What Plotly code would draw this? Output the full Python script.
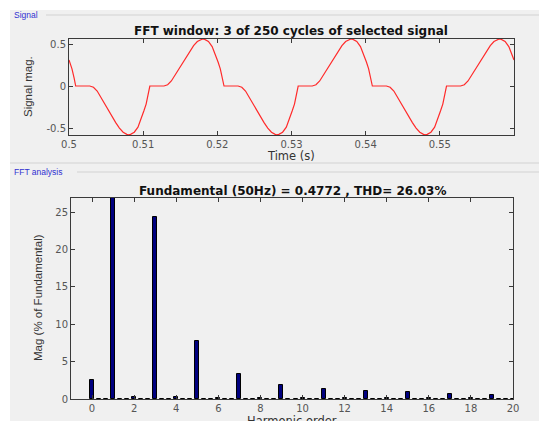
import plotly.graph_objects as go

# ---------------- data ----------------
signal_time = [
    0.5000, 0.5001, 0.5004, 0.5007, 0.5009,
    0.5028, 0.5033, 0.5038, 0.5043, 0.5048, 0.5053, 0.5058, 0.5063, 0.5068, 0.5073,
    0.5078, 0.5080, 0.5083, 0.5088, 0.5093, 0.5098, 0.5101, 0.5104, 0.5107, 0.5109,
    0.5128, 0.5133, 0.5138, 0.5143, 0.5148, 0.5153, 0.5158, 0.5163, 0.5168, 0.5173,
    0.5178, 0.5180, 0.5183, 0.5188, 0.5193, 0.5198, 0.5201, 0.5204, 0.5207, 0.5209,
    0.5228, 0.5233, 0.5238, 0.5243, 0.5248, 0.5253, 0.5258, 0.5263, 0.5268, 0.5273,
    0.5278, 0.5280, 0.5283, 0.5288, 0.5293, 0.5298, 0.5301, 0.5304, 0.5307, 0.5309,
    0.5328, 0.5333, 0.5338, 0.5343, 0.5348, 0.5353, 0.5358, 0.5363, 0.5368, 0.5373,
    0.5378, 0.5380, 0.5383, 0.5388, 0.5393, 0.5398, 0.5401, 0.5404, 0.5407, 0.5409,
    0.5428, 0.5433, 0.5438, 0.5443, 0.5448, 0.5453, 0.5458, 0.5463, 0.5468, 0.5473,
    0.5478, 0.5480, 0.5483, 0.5488, 0.5493, 0.5498, 0.5501, 0.5504, 0.5507, 0.5509,
    0.5528, 0.5533, 0.5538, 0.5543, 0.5548, 0.5553, 0.5558, 0.5563, 0.5568, 0.5573,
    0.5578, 0.5580, 0.5583, 0.5588, 0.5593, 0.5598, 0.5600,
]
signal_mag = [
    0.31, 0.285, 0.205, 0.09, 0.0,
    0.0, -0.015, -0.06, -0.135, -0.215, -0.295, -0.365, -0.435, -0.50, -0.55,
    -0.575, -0.58, -0.575, -0.55, -0.49, -0.38, -0.295, -0.215, -0.09, 0.0,
    0.0, 0.015, 0.06, 0.13, 0.21, 0.285, 0.355, 0.42, 0.48, 0.53,
    0.555, 0.56, 0.555, 0.53, 0.47, 0.365, 0.285, 0.205, 0.09, 0.0,
    0.0, -0.015, -0.06, -0.135, -0.215, -0.295, -0.365, -0.435, -0.50, -0.55,
    -0.575, -0.58, -0.575, -0.55, -0.49, -0.38, -0.295, -0.215, -0.09, 0.0,
    0.0, 0.015, 0.06, 0.13, 0.21, 0.285, 0.355, 0.42, 0.48, 0.53,
    0.555, 0.56, 0.555, 0.53, 0.47, 0.365, 0.285, 0.205, 0.09, 0.0,
    0.0, -0.015, -0.06, -0.135, -0.215, -0.295, -0.365, -0.435, -0.50, -0.55,
    -0.575, -0.58, -0.575, -0.55, -0.49, -0.38, -0.295, -0.215, -0.09, 0.0,
    0.0, 0.015, 0.06, 0.13, 0.21, 0.285, 0.355, 0.42, 0.48, 0.53,
    0.555, 0.56, 0.555, 0.53, 0.47, 0.365, 0.31,
]

harmonic_order = [
    0, 0.333, 0.667, 1, 1.333, 1.667, 2, 2.333, 2.667, 3, 3.333, 3.667,
    4, 4.333, 4.667, 5, 5.333, 5.667, 6, 6.333, 6.667, 7, 7.333, 7.667,
    8, 8.333, 8.667, 9, 9.333, 9.667, 10, 10.333, 10.667, 11, 11.333, 11.667,
    12, 12.333, 12.667, 13, 13.333, 13.667, 14, 14.333, 14.667, 15, 15.333, 15.667,
    16, 16.333, 16.667, 17, 17.333, 17.667, 18, 18.333, 18.667, 19, 19.333, 19.667, 20,
]
harmonic_mag = [
    2.5, 0.06, 0.06, 100.0, 0.06, 0.06, 0.3, 0.06, 0.06, 24.4, 0.06, 0.06,
    0.25, 0.06, 0.06, 7.75, 0.06, 0.06, 0.2, 0.05, 0.05, 3.4, 0, 0,
    0.18, 0, 0, 1.87, 0, 0, 0.15, 0, 0, 1.3, 0, 0,
    0.15, 0, 0, 1.07, 0, 0, 0.15, 0, 0, 0.9, 0, 0,
    0.15, 0, 0, 0.63, 0, 0, 0.15, 0, 0, 0.55, 0, 0, 0,
]

time_ticks = [0.5, 0.51, 0.52, 0.53, 0.54, 0.55]
time_tick_text = ["0.5", "0.51", "0.52", "0.53", "0.54", "0.55"]
sig_ticks = [-0.5, 0, 0.5]
sig_tick_text = ["-0.5", "0", "0.5"]
order_ticks = [0, 2, 4, 6, 8, 10, 12, 14, 16, 18, 20]
mag_ticks = [0, 5, 10, 15, 20, 25]

title_top = "FFT window: 3 of 250 cycles of selected signal"
title_bottom = "Fundamental (50Hz) = 0.4772 , THD= 26.03%"

# ---------------- layout helpers ----------------
W, H = 539, 421
def px(x):
    return x / W
def py(y):
    return 1 - y / H

TICK_FONT = dict(family="DejaVu Sans", size=10, color="#555555")
AX_COL = "#3a3a3a"

fig = go.Figure()
fig.add_trace(go.Scatter(x=signal_time, y=signal_mag, mode="lines",
                         line=dict(color="#ff2a2a", width=1.2),
                         xaxis="x", yaxis="y", showlegend=False, hoverinfo="skip"))
fig.add_trace(go.Bar(x=harmonic_order, y=harmonic_mag, width=0.19,
                     marker=dict(color="#00007f", line=dict(color="#000000", width=1)),
                     xaxis="x2", yaxis="y2", showlegend=False, hoverinfo="skip"))

axis_common = dict(showgrid=False, zeroline=False, showline=True, linecolor=AX_COL,
                   linewidth=1, mirror="ticks", ticks="inside", ticklen=4,
                   tickcolor=AX_COL, tickfont=TICK_FONT, automargin=False)

fig.update_layout(
    template="none",
    width=W, height=H, autosize=False,
    margin=dict(l=0, r=0, t=0, b=0, pad=0, autoexpand=False),
    paper_bgcolor="white", plot_bgcolor="white",
    bargap=0,
    xaxis=dict(domain=[px(69), px(514)], anchor="y", range=[0.5, 0.56],
               tickvals=time_ticks, ticktext=time_tick_text, **axis_common),
    yaxis=dict(domain=[py(135), py(39)], anchor="x", range=[-0.583, 0.5595],
               tickvals=sig_ticks, ticktext=sig_tick_text, **axis_common),
    xaxis2=dict(domain=[px(71), px(513)], anchor="y2", range=[-1, 20],
                tickvals=order_ticks, **axis_common),
    yaxis2=dict(domain=[py(399), py(198)], anchor="x2", range=[0, 26.9],
                tickvals=mag_ticks, **axis_common),
)

# background panel
fig.add_shape(type="rect", xref="paper", yref="paper", x0=px(10), x1=1.0, y0=0, y1=py(10),
              fillcolor="#f0f0f0", line=dict(width=0), layer="below")
# panel rules
for (x0, y) in [(46, 15), (10, 163), (77, 172)]:
    fig.add_shape(type="line", xref="paper", yref="paper", x0=px(x0), x1=1.0,
                  y0=py(y), y1=py(y), line=dict(color="#d2d2d2", width=1), layer="below")

ann = []
ann.append(dict(text="Signal", x=px(12), y=py(15), xanchor="left", yanchor="middle",
                font=dict(family="Liberation Sans", size=8.5, color="#3030d0")))
ann.append(dict(text="FFT analysis", x=px(12), y=py(172), xanchor="left", yanchor="middle",
                font=dict(family="Liberation Sans", size=8.5, color="#3030d0")))
ann.append(dict(text="<b>" + title_top + "</b>", x=px(291), y=py(31), xanchor="center",
                yanchor="middle", font=dict(family="DejaVu Sans", size=12, color="#111111")))
ann.append(dict(text="<b>" + title_bottom + "</b>", x=px(292), y=py(191), xanchor="center",
                yanchor="middle", font=dict(family="DejaVu Sans", size=12, color="#111111")))
ann.append(dict(text="Time (s)", x=px(291), y=py(156), xanchor="center", yanchor="middle",
                font=dict(family="DejaVu Sans", size=11.5, color="#333333")))
ann.append(dict(text="Harmonic order", x=px(292), y=py(412), xanchor="center", yanchor="top",
                font=dict(family="DejaVu Sans", size=11.5, color="#333333")))
ann.append(dict(text="Signal mag.", x=px(28), y=py(87), xanchor="center", yanchor="middle",
                textangle=-90, font=dict(family="Liberation Sans Narrow, Liberation Sans", size=11.5, color="#333333")))
ann.append(dict(text="Mag (% of Fundamental)", x=px(38), y=py(298), xanchor="center", yanchor="middle",
                textangle=-90, font=dict(family="Liberation Sans Narrow, Liberation Sans", size=11.5, color="#333333")))
for a in ann:
    a.update(xref="paper", yref="paper", showarrow=False)
fig.update_layout(annotations=ann)

fig.write_html("out.html", config={"displayModeBar": False},
               post_script="document.body.style.margin='0';document.body.style.overflow='hidden';")
